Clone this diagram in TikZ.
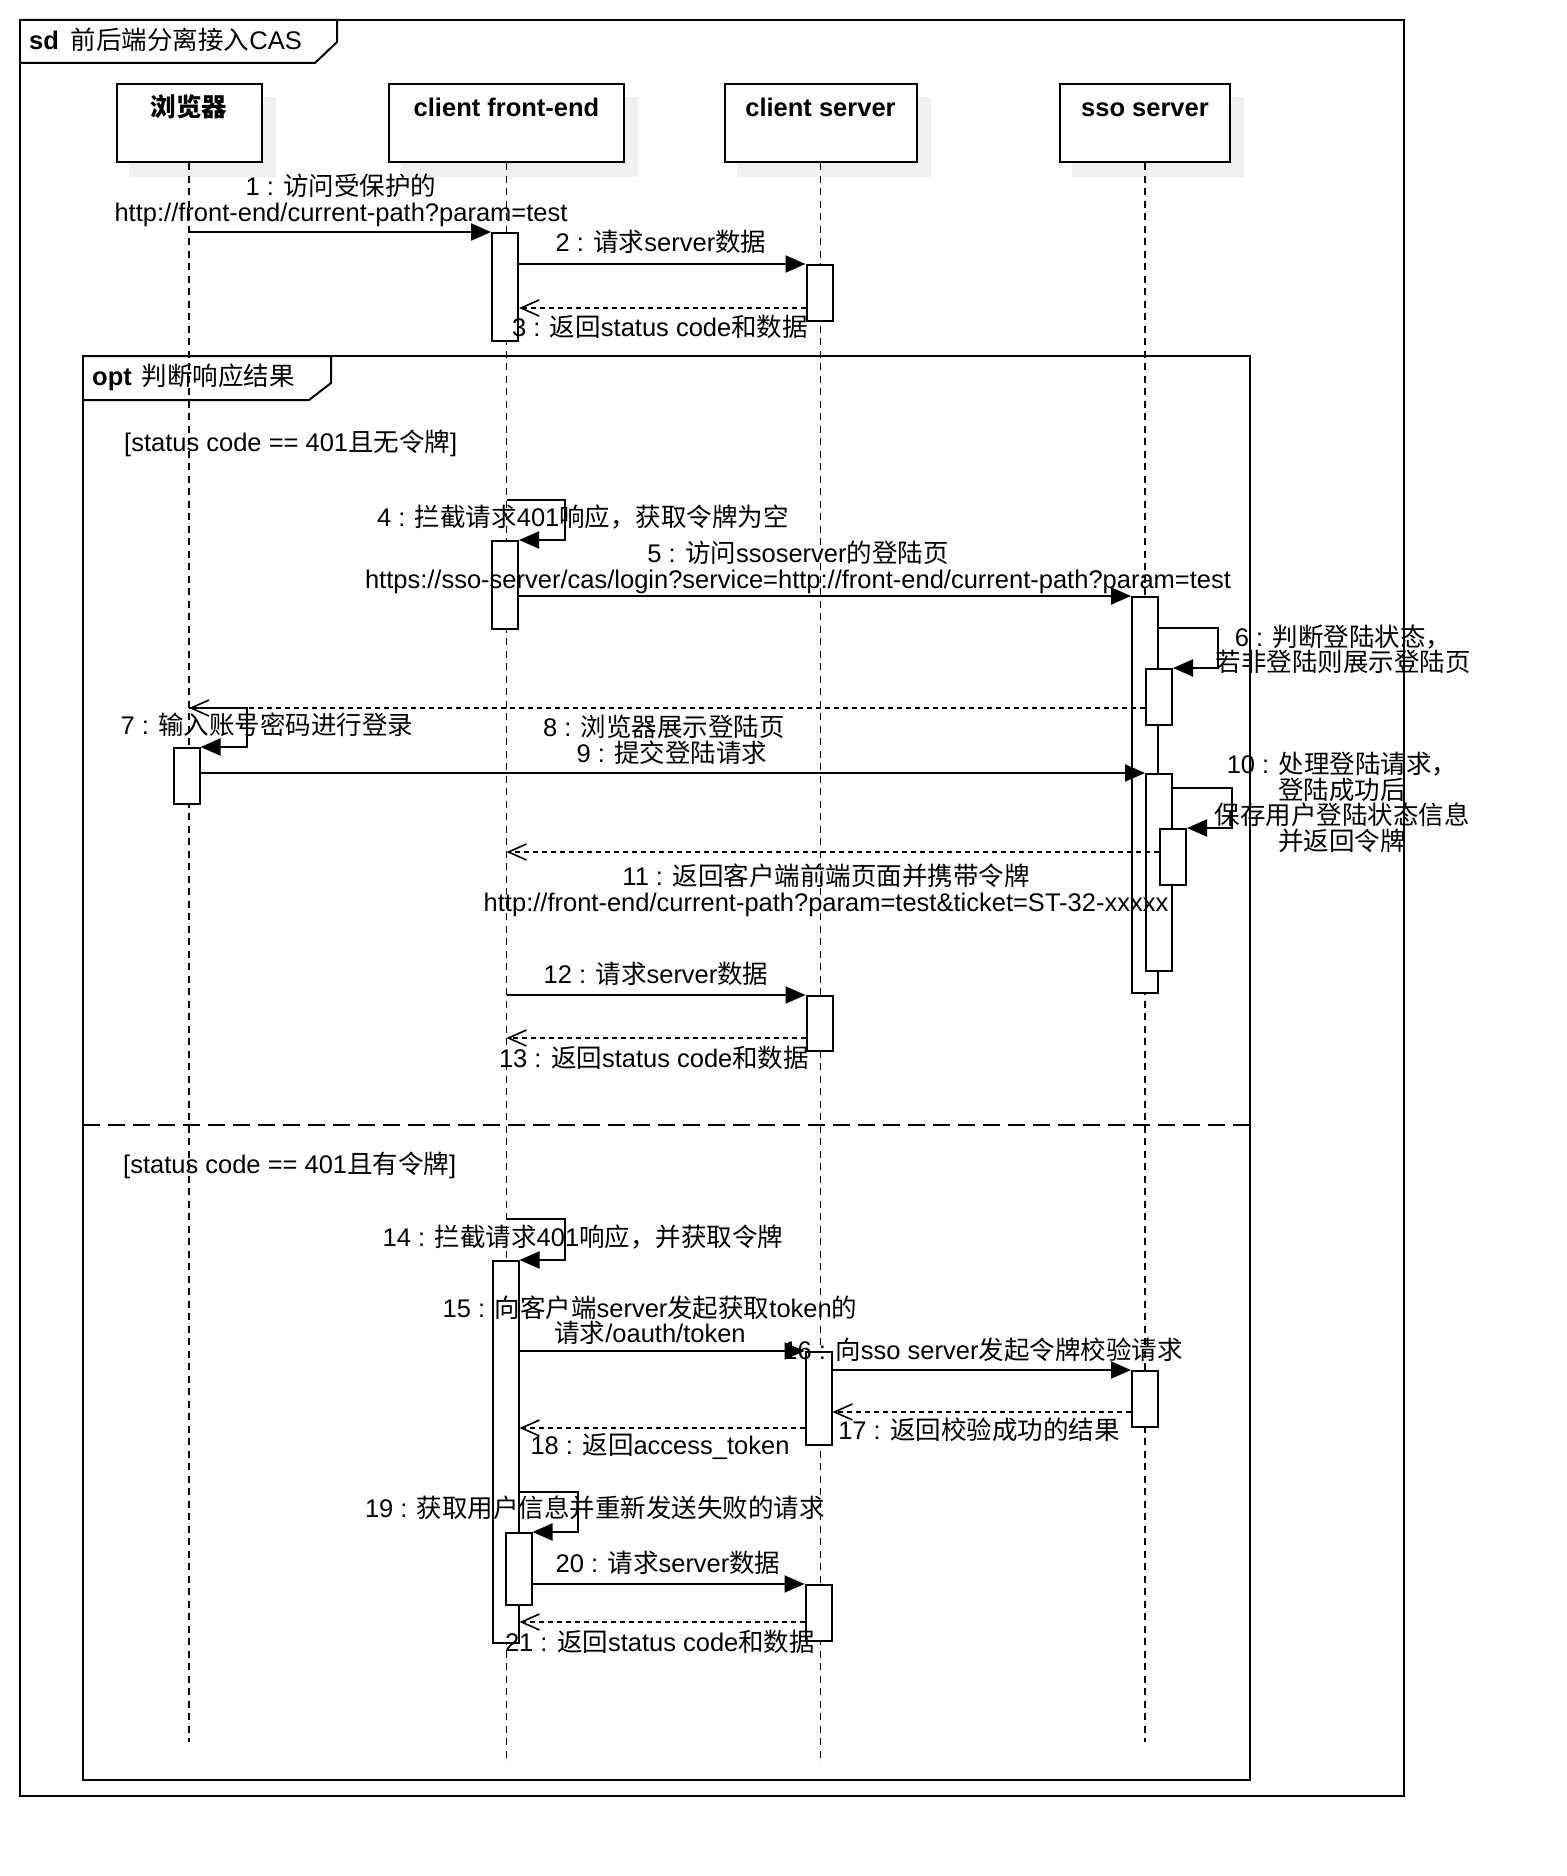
\documentclass[tikz,border=0pt]{standalone}
\usepackage{fontspec}
\setmainfont{Liberation Sans}
\newfontfamily\cjk{Noto Sans CJK SC}
\newcommand\zh[1]{{\cjk #1}}
\usetikzlibrary{arrows.meta}
\pgfdeclarelayer{bg}
\pgfsetlayers{bg,main}
\definecolor{shadowgray}{HTML}{F0F0F0}
\tikzset{
 lbl/.style={font=\fontsize{25.5}{25.5}\selectfont, align=center, inner sep=0pt},
 head/.style={draw, line width=2pt, fill=white, minimum height=78pt, inner sep=0pt},
 headtxt/.style={font=\fontsize{25.5}{25.5}\selectfont\bfseries, inner sep=0pt, anchor=base},
 life/.style={line width=1.5pt, dash pattern=on 7pt off 5.5pt},
 act/.style={draw, line width=2pt, fill=white, minimum width=26pt, inner sep=0pt, anchor=north},
 msg/.style={line width=2pt, -{Triangle[length=20pt,width=17pt]}},
 ret/.style={line width=1.6pt, dash pattern=on 5pt off 4pt, -{Straight Barb[length=18pt,width=16pt,line width=1.6pt]}},
 frm/.style={line width=2pt},
 sepline/.style={line width=2pt, dash pattern=on 17pt off 8pt},
}
\begin{document}
\begin{tikzpicture}[x=1pt,y=-1pt]
\useasboundingbox (0,0) rectangle (1566,1876);

% frames
\draw[frm] (20,20) rectangle (1404,1796);
\draw[frm] (20,20) -- (337,20) -- (337,42) -- (315,63) -- (20,63);
\node[lbl, anchor=west] (sdt) at (29,40) {\textbf{sd}\hspace{12pt}\zh{前后端分离接入}CAS};

\draw[frm] (83,356) rectangle (1250,1780);
\draw[frm] (83,356) -- (331,356) -- (331,383) -- (309,400) -- (83,400);
\node[lbl, anchor=west] (optt) at (92,377) {\textbf{opt}\hspace{10pt}\zh{判断响应结果}};
\node[lbl, anchor=west] (g1) at (124,443) {[status code == 401\zh{且无令牌}]};
\draw[sepline] (83,1125) -- (1250,1125);
\node[lbl, anchor=west] (g2) at (123,1165) {[status code == 401\zh{且有令牌}]};

% headers
\node[head, minimum width=145pt] (br) at (189,123) {};
\node[head, minimum width=235pt] (fe) at (506.5,123) {};
\node[head, minimum width=192pt] (cs) at (820.5,123) {};
\node[head, minimum width=170pt] (sso) at (1145,123) {};
\begin{pgfonlayer}{bg}
\foreach \h in {br,fe,cs,sso}{
  \fill[shadowgray] ([shift={(13,14)}]\h.north west) rectangle ([shift={(13,14)}]\h.south east);
}
\end{pgfonlayer}
\node[headtxt] (brt) at ([shift={(0,33)}]br.north) {\zh{浏览器}};
\node[headtxt] (fet) at ([shift={(0,33)}]fe.north) {client front-end};
\node[headtxt] (cst) at ([shift={(0,33)}]cs.north) {client server};
\node[headtxt] (ssot) at ([shift={(0,33)}]sso.north) {sso server};

% lifelines
\coordinate (brE) at (189,1742);
\coordinate (feE) at (506.5,1763);
\coordinate (csE) at (820.5,1763);
\coordinate (ssoE) at (1145,1742);
\draw[life] (br.south) -- (brE);
\draw[life] (fe.south) -- (feE);
\draw[life] (cs.south) -- (csE);
\draw[life] (sso.south) -- (ssoE);

% activations
\node[act, minimum height=108pt] (a1) at (505,232) {};
\node[act, minimum height=56pt] (a2) at (819.5,264) {};
\node[act, minimum height=88pt] (a4) at (505,540) {};
\node[act, minimum height=396pt] (a5) at (1145,596) {};
\node[act, minimum height=56pt] (a6) at (1159,668) {};
\node[act, minimum height=56pt] (a7) at (186.5,747) {};
\node[act, minimum height=197pt] (a9) at (1159,773) {};
\node[act, minimum height=56pt] (a10) at (1173,828) {};
\node[act, minimum height=55pt] (a12) at (819.5,995) {};
\node[act, minimum height=382pt] (a14) at (505.5,1260) {};
\node[act, minimum height=93pt] (a15) at (818.5,1351) {};
\node[act, minimum height=56pt] (a16) at (1145,1370) {};
\node[act, minimum height=72pt] (a19) at (518.5,1532) {};
\node[act, minimum height=56pt] (a20) at (818.5,1584) {};

% messages
\draw[msg] (br.south |- a1.north) -- (a1.north west);
\draw[msg] (a1.east |- a2.north) -- (a2.north west);
\draw[ret] (a2.west |- 0,308) -- (a1.east |- 0,308);
\draw[msg] (fe.south |- 0,500) -- (565,500) -- (565,540) -- (a4.north east);
\draw[msg] (a4.east |- a5.north) -- (a5.north west);
\draw[msg] (a5.east |- 0,628) -- (1218,628) -- (1218,668) -- (a6.north east);
\draw[ret] (a6.west |- 0,708) -- (br.south |- 0,708);
\draw[msg] (br.south |- 0,708) -- (247,708) -- (247,747) -- (a7.north east);
\draw[msg] (a7.east |- a9.north) -- (a9.north west);
\draw[msg] (a9.east |- 0,788) -- (1232,788) -- (1232,828) -- (a10.north east);
\draw[ret] (a10.west |- 0,852) -- (fe.south |- 0,852);
\draw[msg] (fe.south |- a12.north) -- (a12.north west);
\draw[ret] (a12.west |- 0,1038) -- (fe.south |- 0,1038);
\draw[msg] (fe.south |- 0,1219) -- (565,1219) -- (565,1260) -- (a14.north east);
\draw[msg] (a14.east |- a15.north) -- (a15.north west);
\draw[msg] (a15.east |- a16.north) -- (a16.north west);
\draw[ret] (a16.west |- 0,1412) -- (a15.east |- 0,1412);
\draw[ret] (a15.west |- 0,1428) -- (a14.east |- 0,1428);
\draw[msg] (a14.east |- 0,1492) -- (578,1492) -- (578,1532) -- (a19.north east);
\draw[msg] (a19.east |- a20.north) -- (a20.north west);
\draw[ret] (a20.west |- 0,1622) -- (a14.east |- 0,1622);

% labels
\node[lbl] (l1) at (341,200.5) {1 : \zh{访问受保护的}\\http://front-end/current-path?param=test};
\node[lbl] (l2) at (661,242) {2 : \zh{请求}server\zh{数据}};
\node[lbl] (l3) at (660,327) {3 : \zh{返回}status code\zh{和数据}};
\node[lbl] (l4) at (583,517) {4 : \zh{拦截请求}401\zh{响应，获取令牌为空}};
\node[lbl] (l5) at (798,567.5) {5 : \zh{访问}ssoserver\zh{的登陆页}\\https://sso-server/cas/login?service=http://front-end/current-path?param=test};
\node[lbl] (l6) at (1343,649.5) {6 : \zh{判断登陆状态，}\\\zh{若非登陆则展示登陆页}};
\node[lbl] (l7) at (267,725) {7 : \zh{输入账号密码进行登录}};
\node[lbl] (l8) at (664,727) {8 : \zh{浏览器展示登陆页}};
\node[lbl] (l9) at (672,753) {9 : \zh{提交登陆请求}};
\node[lbl] (l10) at (1342,802.5) {10 : \zh{处理登陆请求，}\\\zh{登陆成功后}\\\zh{保存用户登陆状态信息}\\\zh{并返回令牌}};
\node[lbl] (l11) at (826,890.5) {11 : \zh{返回客户端前端页面并携带令牌}\\http://front-end/current-path?param=test\&ticket=ST-32-xxxxx};
\node[lbl] (l12) at (656,974) {12 : \zh{请求}server\zh{数据}};
\node[lbl] (l13) at (654,1058) {13 : \zh{返回}status code\zh{和数据}};
\node[lbl] (l14) at (583,1237) {14 : \zh{拦截请求}401\zh{响应，并获取令牌}};
\node[lbl] (l15) at (650,1320) {15 : \zh{向客户端}server\zh{发起获取}token\zh{的}\\\zh{请求}/oauth/token};
\node[lbl] (l16) at (983,1350) {16 : \zh{向}sso server\zh{发起令牌校验请求}};
\node[lbl] (l17) at (979,1430) {17 : \zh{返回校验成功的结果}};
\node[lbl] (l18) at (660,1447) {18 : \zh{返回}access\_token};
\node[lbl] (l19) at (595,1508) {19 : \zh{获取用户信息并重新发送失败的请求}};
\node[lbl] (l20) at (668,1563) {20 : \zh{请求}server\zh{数据}};
\node[lbl] (l21) at (660,1642) {21 : \zh{返回}status code\zh{和数据}};
\end{tikzpicture}
\end{document}
